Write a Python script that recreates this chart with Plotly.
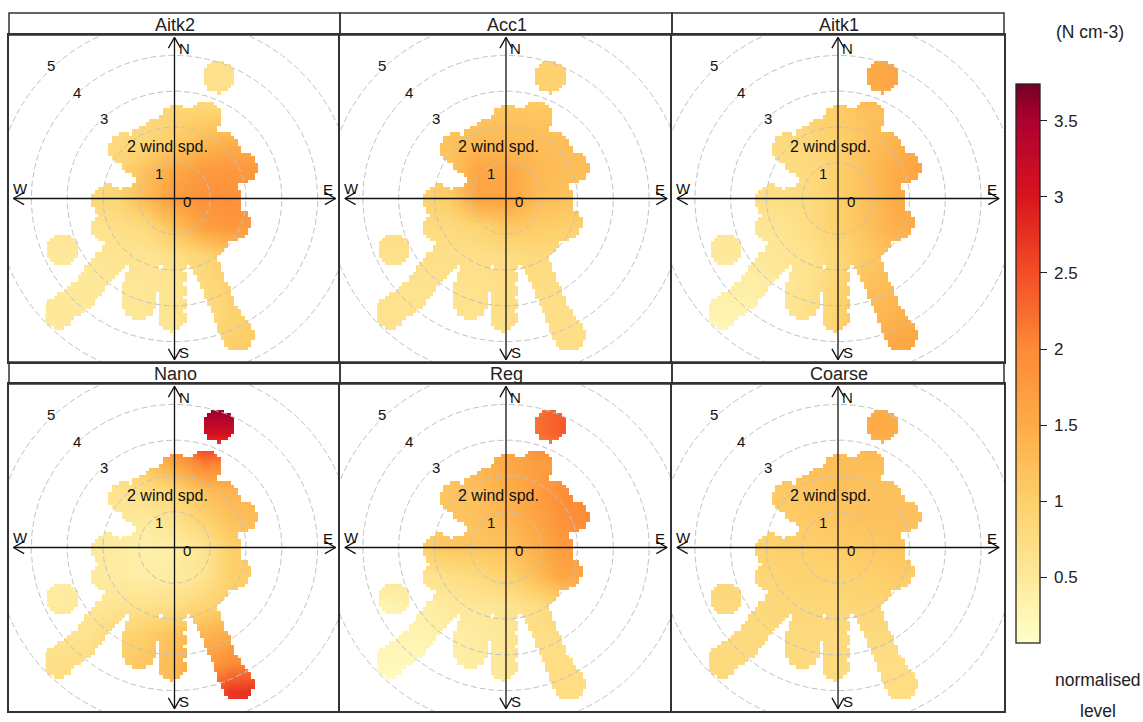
import numpy as np
import plotly.graph_objects as go

W, H = 1143, 722
panel_names = ["Aitk2", "Acc1", "Aitk1", "Nano", "Reg", "Coarse"]
grid_x = [-3.2, -2.4, -1.6, -0.8, 0.0, 0.8, 1.6, 2.4]
grid_y = [4.0, 3.2, 2.4, 1.6, 0.8, 0.0, -0.8, -1.6, -2.4, -3.2, -4.0]

aitk2 = [
    [.75, .75, .75, .75, .75, .7, .7, .75],
    [.7, .7, .7, .75, .8, .65, .65, .75],
    [.65, .65, .8, .85, .9, .95, .95, .95],
    [.7, .7, .8, .85, 1.05, 1.3, 1.45, 1.45],
    [.75, .75, .9, 1.2, 1.55, 1.75, 1.8, 1.8],
    [.85, .85, .9, 1.3, 1.75, 1.9, 1.9, 1.8],
    [.6, .6, .7, .8, 1.2, 1.65, 1.8, 1.7],
    [.5, .55, .6, .6, .7, .9, 1.1, 1.1],
    [.5, .5, .55, .55, .6, .8, .95, 1.0],
    [.5, .5, .55, .55, .6, .75, .95, 1.05],
    [.5, .5, .55, .55, .6, .75, 1.0, 1.1],
]
acc1 = [
    [1.0, 1.0, 1.0, 1.0, 1.0, 1.0, 1.0, 1.0],
    [.95, .95, .95, 1.0, 1.05, .95, .95, .95],
    [1.0, 1.0, 1.1, 1.15, 1.15, 1.15, 1.15, 1.15],
    [1.1, 1.1, 1.2, 1.3, 1.3, 1.25, 1.25, 1.25],
    [1.0, 1.0, 1.15, 1.6, 1.55, 1.35, 1.25, 1.25],
    [.95, .95, 1.05, 1.6, 1.65, 1.3, 1.2, 1.2],
    [.75, .75, .8, .9, 1.1, 1.05, 1.0, 1.0],
    [.65, .7, .7, .7, .75, .8, .8, .8],
    [.65, .65, .65, .65, .7, .75, .75, .75],
    [.65, .65, .65, .65, .7, .7, .7, .7],
    [.6, .65, .65, .65, .7, .7, .7, .7],
]
aitk1 = [
    [1.6, 1.6, 1.6, 1.6, 1.6, 1.55, 1.6, 1.6],
    [1.0, 1.0, 1.0, 1.05, 1.1, 1.5, 1.6, 1.3],
    [.8, .8, .85, .95, 1.05, 1.2, 1.25, 1.25],
    [.75, .75, .8, .85, 1.0, 1.2, 1.4, 1.5],
    [.7, .7, .75, .8, 1.0, 1.25, 1.5, 1.65],
    [.7, .7, .75, .8, 1.0, 1.25, 1.5, 1.6],
    [.55, .55, .6, .75, 1.0, 1.2, 1.45, 1.5],
    [.5, .5, .55, .65, .85, 1.1, 1.25, 1.3],
    [.4, .4, .5, .65, .9, 1.2, 1.3, 1.3],
    [.3, .3, .55, .7, .95, 1.3, 1.4, 1.5],
    [.25, .25, .55, .7, .95, 1.4, 1.55, 1.6],
]
nano = [
    [3.74, 3.74, 3.74, 3.74, 3.74, 3.74, 3.74, 3.74],
    [1.5, 1.5, 1.5, 1.8, 2.2, 3.1, 3.1, 2.2],
    [.7, .7, .7, 1.2, 1.6, 2.15, 2.0, 1.6],
    [.6, .6, .65, .75, .9, 1.25, 1.4, 1.4],
    [.5, .5, .5, .5, .65, .95, 1.2, 1.3],
    [.5, .5, .45, .35, .4, .6, 1.0, 1.15],
    [.45, .45, .45, .4, .45, .6, 1.0, 1.1],
    [.45, .5, .6, .65, .7, .9, 1.05, 1.05],
    [.6, .65, .85, 1.0, 1.2, 1.35, 1.5, 1.5],
    [.7, .7, 1.0, 1.15, 1.3, 1.7, 1.95, 2.0],
    [.75, .75, 1.0, 1.15, 1.3, 2.2, 2.7, 2.75],
]
reg = [
    [2.3, 2.3, 2.3, 2.3, 2.3, 2.2, 2.4, 2.4],
    [1.3, 1.3, 1.3, 1.4, 1.5, 2.2, 2.4, 1.8],
    [1.05, 1.05, 1.15, 1.35, 1.55, 1.7, 1.75, 1.7],
    [1.05, 1.05, 1.15, 1.25, 1.45, 1.7, 1.95, 2.0],
    [1.05, 1.05, 1.15, 1.2, 1.35, 1.6, 1.9, 2.0],
    [1.0, 1.0, 1.15, 1.15, 1.2, 1.45, 1.75, 1.75],
    [.55, .6, .7, .8, .95, 1.25, 1.6, 1.55],
    [.3, .4, .5, .55, .6, .75, .95, .95],
    [.3, .3, .4, .45, .55, .7, .75, .75],
    [.2, .2, .4, .45, .55, .7, .75, .75],
    [.15, .2, .4, .45, .55, .7, .75, .75],
]
coarse = [
    [1.5, 1.5, 1.5, 1.5, 1.5, 1.5, 1.5, 1.5],
    [1.25, 1.25, 1.25, 1.25, 1.25, 1.5, 1.5, 1.25],
    [1.1, 1.1, 1.15, 1.25, 1.25, 1.25, 1.25, 1.25],
    [1.05, 1.05, 1.1, 1.15, 1.2, 1.2, 1.2, 1.2],
    [.95, .95, 1.05, 1.1, 1.15, 1.2, 1.2, 1.2],
    [.95, .95, 1.0, 1.0, 1.05, 1.1, 1.15, 1.15],
    [.85, .85, .9, .95, .95, 1.0, 1.05, 1.05],
    [.8, .8, .85, .85, .85, .9, .9, .9],
    [.8, .8, .8, .8, .8, .8, .8, .8],
    [.8, .8, .8, .8, .8, .75, .75, .75],
    [.8, .8, .8, .8, .8, .75, .75, .75],
]
panel_values = [aitk2, acc1, aitk1, nano, reg, coarse]

# Where winds were observed (x east, y north, reach), all in wind-speed units
obs_x = [1.23, .05, .83, .76, -1.41, -.85, -.40, 1.37, 1.85, 1.39, 1.39, 1.67, 1.46, -1.87, -1.87,
         -3.24, -2.92, -2.59, -2.33, -2.08, -1.90, -1.70, -3.13,
         -1.00, -.95, -.85, -.07, -.07, -.07, -.07,
         1.76, 1.60, 1.46, 1.32, 1.18, 1.04, .90, .72,
         0, -1.05, -1.0, -1.0, 0, .6, .7, .3, -.3, 1.0, 1.0]
obs_y = [3.39, 2.18, 2.28, 1.83, 1.39, 1.57, 1.83, 1.39, .86, .07, .62, -.68, -.78, -.06, -.80,
         -3.19, -2.93, -2.68, -2.35, -2.03, -1.82, -1.61, -1.42,
         -2.87, -2.50, -2.20, -3.33, -2.95, -2.55, -2.15,
         -3.80, -3.55, -3.29, -2.95, -2.63, -2.30, -1.98, -1.61,
         0, 1.09, -.5, -1.0, -.9, -.8, .7, 1.1, 1.0, 0, -.3]
obs_r = [.45, .45, .45, .45, .45, .45, .45, .45, .45, .45, .45, .45, .45, .45, .45,
         .45, .42, .42, .42, .42, .42, .42, .45,
         .5, .5, .5, .38, .38, .38, .38,
         .45, .41, .38, .38, .38, .38, .38, .38,
         1.2, .45, .9, .9, 1.05, 1.0, 1.1, 1.0, .9, .85, .85]

cbar_ticks = [0.5, 1, 1.5, 2, 2.5, 3, 3.5]
cbar_min, cbar_max = 0.07, 3.74
scale_levels = [0.07, 0.5, 1.0, 1.5, 2.0, 2.5, 3.0, 3.5, 3.74]
scale_colours = ["#FFFFC8", "#FEE99B", "#FDD06B", "#FDAC47", "#FD8A37", "#F34E26", "#D9141E", "#AC0030", "#760026"]
ring_speeds = [1, 2, 3, 4, 5]

# Layout in pixels
col_edges = [9, 340, 672, 1004]
row_tops = [(13, 35, 362), (362, 384, 711)]
PX_PER_UNIT = 35.8
FONT = "Liberation Sans"
FRAME = "#333333"

fig = go.Figure()
cell = 0.095
mx = np.arange(-4.75, 4.76, cell)
my = np.arange(-4.75, 4.76, cell)
XX, YY = np.meshgrid(mx, my)
inside = np.zeros(XX.shape, bool)
for ox, oy, orad in zip(obs_x, obs_y, obs_r):
    inside |= (XX - ox) ** 2 + (YY - oy) ** 2 <= orad ** 2
mask = np.where(inside, np.nan, 1.0)

theta = np.linspace(0, 2 * np.pi, 361)
shapes, annos = [], []
layout_axes = {}


def px(v):
    return v / W


def py(v):
    return 1 - v / H


for i, name in enumerate(panel_names):
    r, c = divmod(i, 3)
    x0, x1 = col_edges[c], col_edges[c + 1]
    top, mid, bot = row_tops[r]
    n = i + 1
    xname, yname = ("x", "y") if n == 1 else (f"x{n}", f"y{n}")
    hw, hh = (x1 - x0) / 2 / PX_PER_UNIT, (bot - mid) / 2 / PX_PER_UNIT
    ax = dict(showgrid=False, zeroline=False, showticklabels=False, ticks="", showline=True,
              mirror=True, linecolor=FRAME, linewidth=1.5, fixedrange=True)
    layout_axes["xaxis" if n == 1 else f"xaxis{n}"] = dict(ax, domain=[px(x0), px(x1)], range=[-hw, hw], anchor=yname)
    layout_axes["yaxis" if n == 1 else f"yaxis{n}"] = dict(ax, domain=[py(bot), py(mid)], range=[-hh, hh], anchor=xname)

    fig.add_trace(go.Heatmap(x=grid_x, y=grid_y, z=panel_values[i], coloraxis="coloraxis", zsmooth="best",
                             xaxis=xname, yaxis=yname, hoverinfo="skip"))
    fig.add_trace(go.Heatmap(x=mx, y=my, z=mask, zmin=0, zmax=1, showscale=False,
                             colorscale=[[0, "#ffffff"], [1, "#ffffff"]], xaxis=xname, yaxis=yname,
                             hoverinfo="skip"))
    for s in ring_speeds:
        fig.add_trace(go.Scatter(x=s * np.cos(theta), y=s * np.sin(theta), mode="lines",
                                 line=dict(color="#c2c2c2", width=1, dash="6px,3px"),
                                 xaxis=xname, yaxis=yname, hoverinfo="skip", showlegend=False))
    L = 4.5
    cross = [([-L, L], [0, 0]), ([0, 0], [-L, L]),
             ([-L + .3, -L, -L + .3], [.17, 0, -.17]), ([L - .3, L, L - .3], [.17, 0, -.17]),
             ([-.17, 0, .17], [L - .3, L, L - .3]), ([-.17, 0, .17], [-L + .3, -L, -L + .3])]
    for cx, cy in cross:
        fig.add_trace(go.Scatter(x=cx, y=cy, mode="lines", line=dict(color="#111111", width=1.3),
                                 xaxis=xname, yaxis=yname, hoverinfo="skip", showlegend=False))
    labels = [("N", .27, 4.18), ("S", .27, -4.29), ("E", 4.3, .25), ("W", -4.31, .27), ("0", .35, -.08),
              ("1", -.43, .70), ("2 wind spd.", -.2, 1.46), ("3", -1.96, 2.23), ("4", -2.71, 2.95),
              ("5", -3.46, 3.71)]
    for t, lx, ly in labels:
        annos.append(dict(text=t, x=lx, y=ly, xref=xname, yref=yname, showarrow=False,
                          xanchor="center", yanchor="middle",
                          font=dict(family=FONT, size=15 if t != "2 wind spd." else 16, color="#111111")))
    shapes.append(dict(type="rect", xref="paper", yref="paper", x0=px(x0), x1=px(x1), y0=py(mid), y1=py(top),
                       line=dict(color=FRAME, width=1.5)))
    annos.append(dict(text=name, x=px((x0 + x1) / 2 + .5), y=py((top + mid) / 2 + 1), xref="paper", yref="paper",
                      xanchor="center", yanchor="middle", showarrow=False,
                      font=dict(family=FONT, size=18, color="#222222")))

for text, cx, cy in [("(N cm-3)", 1090, 32), ("normalised", 1098, 680), ("level", 1098, 711)]:
    annos.append(dict(text=text, x=px(cx), y=py(cy), xref="paper", yref="paper", showarrow=False,
                      xanchor="center", yanchor="middle",
                      font=dict(family=FONT, size=17.5, color="#222222")))

colorscale = [[(v - cbar_min) / (cbar_max - cbar_min), col] for v, col in zip(scale_levels, scale_colours)]
fig.update_layout(
    width=W, height=H, autosize=False, margin=dict(l=0, r=0, t=0, b=0), paper_bgcolor="white",
    plot_bgcolor="white", showlegend=False, shapes=shapes, annotations=annos,
    coloraxis=dict(cmin=cbar_min, cmax=cbar_max, colorscale=colorscale,
                   colorbar=dict(x=px(1016), xanchor="left", y=py(84), yanchor="top", thickness=24,
                                 thicknessmode="pixels", len=559, lenmode="pixels", xpad=0, ypad=0,
                                 outlinecolor="#222222", outlinewidth=1.3, ticks="outside", ticklen=7,
                                 tickcolor="#222222", tickvals=cbar_ticks,
                                 ticktext=["\u2009" + f"{v:g}" for v in cbar_ticks],
                                 tickfont=dict(family=FONT, size=17, color="#222222"))),
    **layout_axes,
)
fig.write_html("out.html", config={"displayModeBar": False},
               post_script='document.body.style.margin="0";document.documentElement.style.overflow="hidden";')
